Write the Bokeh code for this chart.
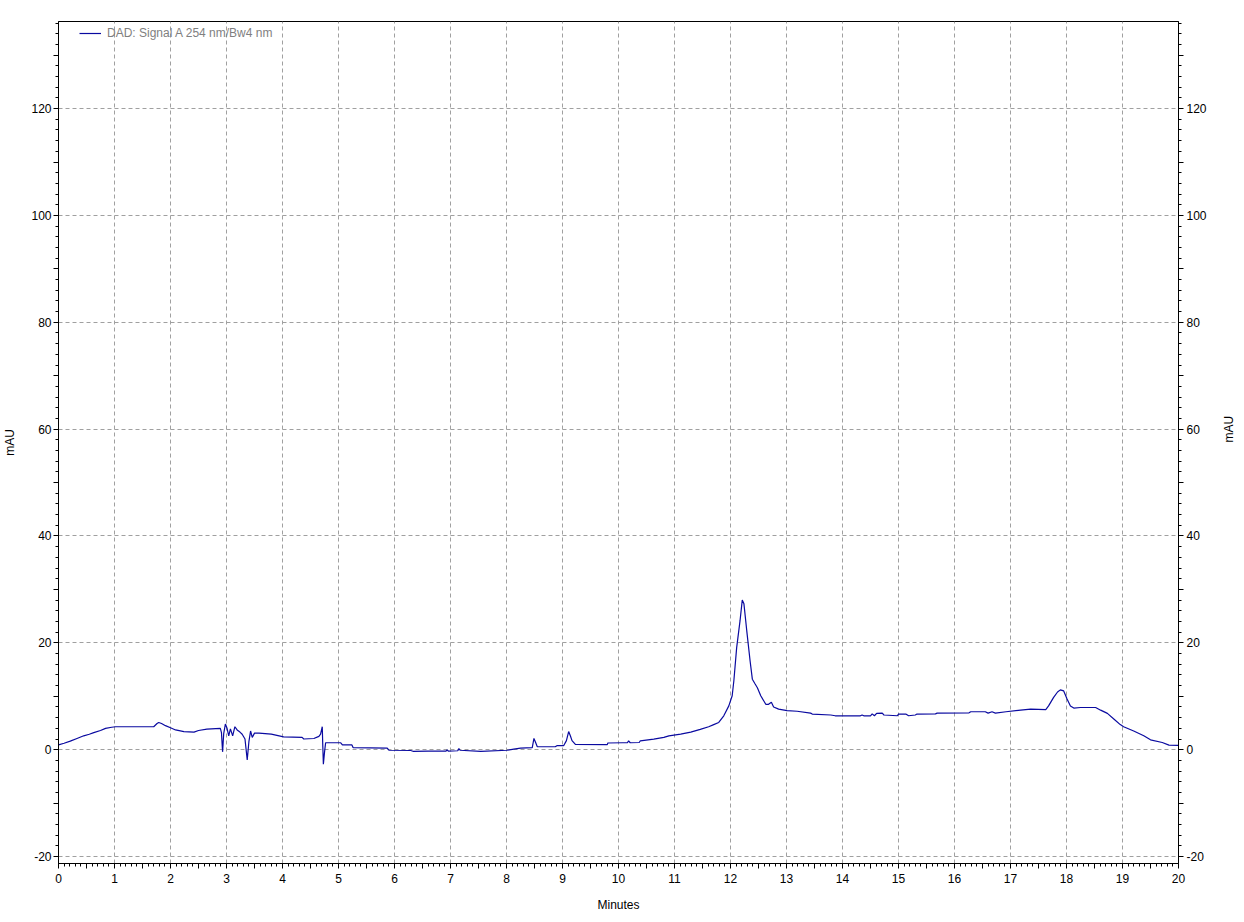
import math
from bokeh.plotting import figure
from bokeh.models import ColumnDataSource, FixedTicker, LinearAxis, Range1d
from bokeh.embed import file_html
from bokeh.resources import INLINE

# Retention time (minutes) and detector signal (mAU)
time_min = [
    0.00, 0.10, 0.21, 0.33, 0.45, 0.55, 0.63, 0.75, 0.84, 0.95, 1.02, 1.40, 1.70, 1.76, 1.79, 1.84,
    1.91, 2.00, 2.09, 2.24, 2.42, 2.50, 2.65, 2.89, 2.91, 2.93, 2.95, 2.98, 3.01, 3.04, 3.07, 3.11,
    3.15, 3.19, 3.24, 3.28, 3.33, 3.37, 3.40, 3.43, 3.46, 3.50, 3.58, 3.80, 4.02, 4.35, 4.38, 4.56,
    4.65, 4.68, 4.71, 4.72, 4.73, 4.75, 4.77, 5.04, 5.07, 5.24, 5.26, 5.87, 5.90, 6.29, 6.33, 6.60,
    6.92, 6.94, 6.96, 7.13, 7.15, 7.17, 7.54, 8.01, 8.13, 8.25, 8.46, 8.49, 8.52, 8.55, 8.87, 8.90,
    9.02, 9.07, 9.11, 9.14, 9.17, 9.23, 9.80, 9.81, 10.07, 10.16, 10.18, 10.21, 10.37, 10.39, 10.63,
    10.81, 10.90, 11.11, 11.29, 11.46, 11.61, 11.70, 11.79, 11.88, 11.97, 12.03, 12.06, 12.11, 12.17,
    12.21, 12.24, 12.29, 12.35, 12.39, 12.44, 12.48, 12.54, 12.63, 12.68, 12.73, 12.77, 12.86, 13.01,
    13.19, 13.43, 13.46, 13.79, 13.87, 14.32, 14.35, 14.38, 14.50, 14.53, 14.57, 14.61, 14.71, 14.74,
    14.98, 15.00, 15.13, 15.18, 15.30, 15.33, 15.66, 15.69, 16.26, 16.29, 16.55, 16.60, 16.67, 16.73,
    16.92, 17.18, 17.36, 17.63, 17.68, 17.77, 17.84, 17.89, 17.95, 18.01, 18.07, 18.13, 18.25, 18.52,
    18.61, 18.73, 18.85, 18.96, 19.02, 19.20, 19.38, 19.50, 19.71, 19.83, 20.00,
]
signal_mau = [
    0.9, 1.2, 1.6, 2.1, 2.6, 2.9, 3.2, 3.6, 4.0, 4.2, 4.3, 4.3, 4.3, 4.9, 5.1, 4.9,
    4.5, 4.1, 3.7, 3.4, 3.3, 3.6, 3.85, 4.0, 3.2, -0.4, 3.0, 4.8, 4.0, 2.6, 3.9, 2.6,
    4.3, 3.7, 3.3, 2.9, 2.0, -1.9, 1.5, 3.5, 2.3, 3.1, 3.1, 2.9, 2.4, 2.3, 2.0, 2.1,
    2.5, 2.9, 4.3, 0.5, -2.7, -0.5, 1.3, 1.3, 0.9, 0.9, 0.4, 0.3, -0.1, -0.15, -0.3, -0.25,
    -0.25, -0.05, -0.25, -0.2, 0.2, -0.1, -0.3, -0.1, 0.1, 0.3, 0.4, 2.1, 1.35, 0.55, 0.55, 0.75,
    0.75, 1.7, 3.4, 2.6, 1.7, 1.0, 0.95, 1.25, 1.3, 1.3, 1.67, 1.3, 1.35, 1.67, 1.98,
    2.3, 2.6, 2.9, 3.3, 3.8, 4.3, 4.7, 5.1, 6.35, 8.2, 10.1, 12.9, 19.1, 24.1,
    28.0, 27.3, 22.3, 16.6, 13.2, 12.3, 11.6, 10.1, 8.5, 8.5, 8.9, 8.0, 7.6, 7.3,
    7.2, 6.85, 6.67, 6.5, 6.35, 6.35, 6.5, 6.35, 6.35, 6.7, 6.35, 6.8, 6.85, 6.5,
    6.35, 6.67, 6.67, 6.35, 6.5, 6.67, 6.7, 6.85, 6.9, 7.1, 7.1, 6.85, 7.1, 6.85,
    7.1, 7.4, 7.6, 7.5, 8.2, 9.8, 10.8, 11.2, 11.0, 9.5, 8.2, 7.8, 7.9, 7.9,
    7.4, 6.8, 5.7, 4.7, 4.3, 3.5, 2.6, 1.85, 1.35, 0.86, 0.8,
]

series_name = "DAD: Signal A 254 nm/Bw4 nm"
x_label = "Minutes"
y_label = "mAU"
x_range = (0, 20)
y_range = (-21.3, 136.3)

FONT = "Liberation Sans"
LINE_COLOR = "#0A0AA0"

source = ColumnDataSource(data=dict(t=time_min, signal=signal_mau))

p = figure(
    frame_width=1120, frame_height=842,
    min_border_left=58, min_border_right=61, min_border_top=21, min_border_bottom=51,
    x_range=Range1d(*x_range), y_range=Range1d(*y_range),
    output_backend="svg", toolbar_location=None,
    background_fill_color="white", border_fill_color="white",
)
p.outline_line_color = "black"
p.outline_line_width = 1

p.line(x="t", y="signal", source=source, line_color=LINE_COLOR, line_width=1.2,
       legend_label=series_name)

# x ticks
x_major = [i * 0.5 for i in range(41)]
x_minor = [round(i * 0.1, 1) for i in range(201)]
x_over = {}
for v in x_major:
    x_over[v] = str(int(v)) if float(v).is_integer() else ""

xa = p.xaxis[0]
xa.ticker = FixedTicker(ticks=x_major, minor_ticks=x_minor)
xa.major_label_overrides = x_over
xa.axis_label = x_label

# y ticks
y_major = list(range(-20, 131, 10))
y_minor = list(range(-20, 137, 2))
y_over = {v: (str(v) if v % 20 == 0 else "") for v in y_major}

ya = p.yaxis[0]
ya.ticker = FixedTicker(ticks=y_major, minor_ticks=y_minor)
ya.major_label_overrides = y_over
ya.axis_label = y_label

ra = LinearAxis(ticker=FixedTicker(ticks=y_major, minor_ticks=y_minor),
                major_label_overrides=y_over, axis_label=y_label)
p.add_layout(ra, "right")

for ax in (xa, ya, ra):
    ax.axis_line_color = "black"
    ax.axis_line_width = 1
    ax.major_tick_line_color = "black"
    ax.minor_tick_line_color = "black"
    ax.major_tick_in = 0
    ax.major_tick_out = 5
    ax.minor_tick_in = 0
    ax.minor_tick_out = 3
    ax.major_label_text_font = FONT
    ax.major_label_text_font_size = "12px"
    ax.major_label_text_color = "black"
    ax.axis_label_text_font = FONT
    ax.axis_label_text_font_size = "12px"
    ax.axis_label_text_font_style = "normal"
    ax.axis_label_text_color = "black"

xa.major_label_standoff = 5
xa.axis_label_standoff = 12
ya.major_label_standoff = 2
ya.axis_label_standoff = 11
ra.major_label_standoff = 3
ra.axis_label_standoff = 19
ra.axis_label_orientation = math.pi / 2

# grid
p.xgrid.ticker = FixedTicker(ticks=list(range(0, 21)))
p.ygrid.ticker = FixedTicker(ticks=list(range(-20, 121, 20)))
for g in (p.xgrid, p.ygrid):
    g.grid_line_color = "#A0A0A0"
    g.grid_line_dash = "4 3"
    g.grid_line_width = 1

# legend
lg = p.legend[0]
lg.location = (21, 820)
lg.padding = 0
lg.margin = 0
lg.spacing = 0
lg.border_line_color = None
lg.background_fill_alpha = 0
lg.glyph_width = 22
lg.glyph_height = 20
lg.label_height = 20
lg.label_standoff = 6
lg.label_text_font = FONT
lg.label_text_font_size = "12px"
lg.label_text_color = "#7F7F7F"

open("out.html", "w").write(file_html(p, INLINE))
